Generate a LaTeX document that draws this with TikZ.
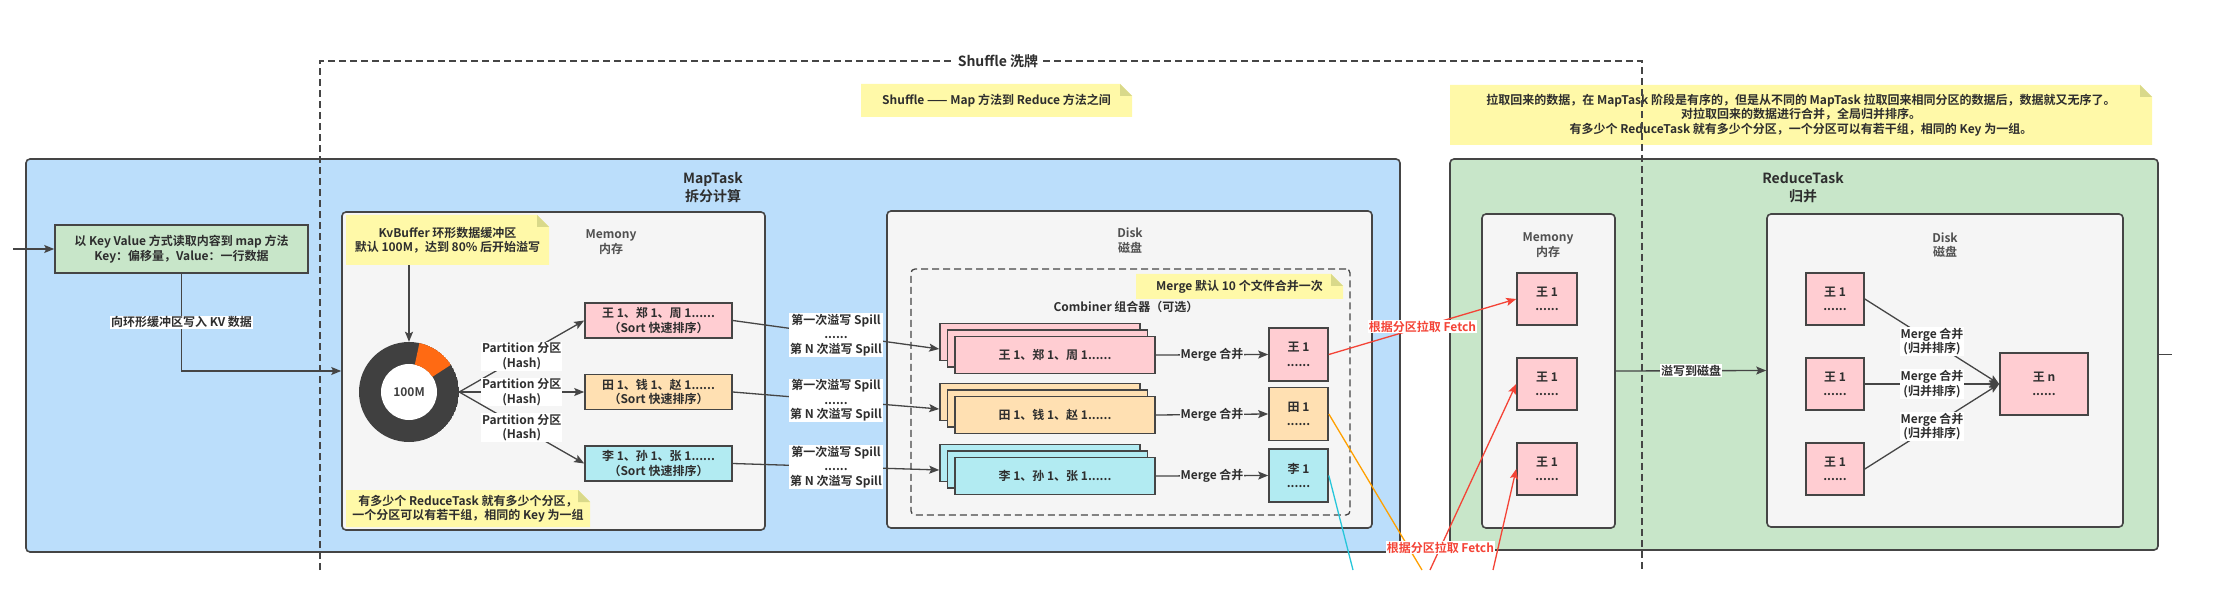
\documentclass[tikz,border=0pt]{standalone}
\usepackage{fontspec}
\setmainfont{Noto Sans CJK SC}[BoldFont={Noto Sans CJK SC Bold}]
\usetikzlibrary{arrows.meta, shadows}
\definecolor{clrMap}{HTML}{BBDEFB}
\definecolor{clrReduce}{HTML}{C8E6C9}
\definecolor{clrPanel}{HTML}{F5F5F5}
\definecolor{clrNote}{HTML}{FFF9A8}
\definecolor{clrFold}{HTML}{D9D98A}
\definecolor{clrPink}{HTML}{FFCDD2}
\definecolor{clrPeach}{HTML}{FFE0B2}
\definecolor{clrCyan}{HTML}{B2EBF2}
\definecolor{clrLine}{HTML}{454545}
\definecolor{clrText}{HTML}{2E2E2E}
\definecolor{clrSub}{HTML}{505050}
\definecolor{clrRing}{HTML}{404040}
\definecolor{clrWedge}{HTML}{FF6A13}
\definecolor{clrFetch}{HTML}{F44336}
\definecolor{clrAmber}{HTML}{FFA000}
\definecolor{clrTeal}{HTML}{26C6DA}
\newcommand{\diagtxt}{\fontsize{12}{14.5}\selectfont}
\newcommand{\headtxt}{\fontsize{14}{18}\selectfont}
\tikzset{
  task/.style = {rectangle, rounded corners=4pt, draw=clrLine, line width=1.6pt},
  panel/.style = {rectangle, rounded corners=4pt, draw=clrLine, line width=1.6pt, fill=clrPanel},
  title/.style = {align=center, font=\headtxt\bfseries, text=clrText},
  subtitle/.style = {align=center, font=\diagtxt\bfseries, text=clrSub},
  record/.style = {rectangle, draw=clrLine, line width=1.6pt, align=center,
                   font=\diagtxt\bfseries, text=clrText},
  stack/.style = {record, double copy shadow={shadow xshift=-7.5pt, shadow yshift=6.5pt}},
  note/.style = {rectangle, align=center, inner sep=3pt, font=\diagtxt\bfseries, text=clrText,
    path picture={
      \fill[clrNote] (path picture bounding box.south west) -- (path picture bounding box.north west)
        -- ([xshift=-12pt]path picture bounding box.north east)
        -- ([yshift=-12pt]path picture bounding box.north east)
        -- (path picture bounding box.south east) -- cycle;
      \fill[clrFold] ([xshift=-12pt]path picture bounding box.north east)
        -- ([xshift=-12pt, yshift=-12pt]path picture bounding box.north east)
        -- ([yshift=-12pt]path picture bounding box.north east) -- cycle;
    }},
  ring/.style = {circle, minimum size=100pt, inner sep=0pt, font=\diagtxt\bfseries, text=clrRing,
    path picture={
      \fill[clrRing] (path picture bounding box.center) circle[radius=50pt];
      \fill[white] (path picture bounding box.center) circle[radius=28pt];
      \fill[clrWedge] ([shift={(78:50pt)}]path picture bounding box.center)
        arc[start angle=78, end angle=33, radius=50pt]
        -- ([shift={(33:28pt)}]path picture bounding box.center)
        arc[start angle=33, end angle=78, radius=28pt] -- cycle;
    }},
  tag/.style = {fill=white, inner sep=1pt, align=center, font=\diagtxt\bfseries, text=clrText},
  fetchtag/.style = {tag, text=clrFetch},
  frame/.style = {draw=clrLine, line width=1.3pt, dash pattern=on 7pt off 4pt},
  arrow/.style = {-{Stealth[length=10pt, width=8pt, inset=2pt]}, line width=1.3pt, draw=clrLine},
  link/.style = {line width=1.3pt, draw=clrLine},
  fetch/.style = {arrow, draw=clrFetch},
}

\begin{document}
\begin{tikzpicture}[x=1pt, y=-1pt]
  \useasboundingbox (0,0) rectangle (2227,609);
  \fill[white] (0,0) rectangle (2227,609);

  % rows of the three partitions
  \def\rowA{320.5}
  \def\rowB{392}
  \def\rowC{463.5}
  \def\rrowA{299}
  \def\rrowB{384}
  \def\rrowC{469}

  % --- Task containers ---
  \node[task, fill=clrMap, minimum width=1374pt, minimum height=393pt] at (713,355.5) (maptask) {};
  \node[task, fill=clrReduce, minimum width=708pt, minimum height=391pt] at (1804,354.5) (reducetask) {};
  \node[title] at (713,188) (maptitle) {MapTask\\拆分计算};
  \node[title] at (1803,188) (reducetitle) {ReduceTask\\归并};

  \node[panel, minimum width=423pt, minimum height=318pt] at (553.5,371) (mapmem) {};
  \node[panel, minimum width=485pt, minimum height=317pt] at (1129.5,369.5) (mapdisk) {};
  \node[panel, minimum width=133pt, minimum height=314pt] at (1548.5,371) (redmem) {};
  \node[panel, minimum width=356pt, minimum height=313pt] at (1945,370.5) (reddisk) {};
  \node[subtitle] at (611,242) (memtitle) {Memony\\内存};
  \node[subtitle] at (1130,240.5) (disktitle) {Disk\\磁盘};
  \node[subtitle] at (1548,245) (rmemtitle) {Memony\\内存};
  \node[subtitle] at (1945,245) (rdisktitle) {Disk\\磁盘};

  % --- Read input ---
  \coordinate (src) at (13,249);
  \node[record, fill=clrReduce, minimum width=253pt, minimum height=48pt] at (181.5,249) (keyval)
    {以 Key Value 方式读取内容到 map 方法\\Key：偏移量，Value：一行数据};
  \draw[arrow] (src) -- (keyval.west);
  \draw[arrow] (keyval.south) |- node[tag, pos=0.25] {向环形缓冲区写入 KV 数据} (mapmem.west);

  % --- Ring buffer in memory ---
  \node[note, minimum width=203pt, minimum height=50pt] at (447.5,240) (kvnote)
    {KvBuffer 环形数据缓冲区\\默认 100M，达到 80\% 后开始溢写};
  \node[ring] at (409,392) (ring) {100M};
  \draw[arrow] (kvnote.south -| ring.north) -- (ring.north);

  \node[record, fill=clrPink, minimum width=147pt, minimum height=35pt] at (658.5,\rowA) (sort1)
    {王 1、郑 1、周 1......\\（Sort 快速排序）};
  \node[record, fill=clrPeach, minimum width=147pt, minimum height=35pt] at (658.5,\rowB) (sort2)
    {田 1、钱 1、赵 1......\\（Sort 快速排序）};
  \node[record, fill=clrCyan, minimum width=147pt, minimum height=35pt] at (658.5,\rowC) (sort3)
    {李 1、孙 1、张 1......\\（Sort 快速排序）};
  \draw[arrow] (ring.east) -- node[tag] {Partition 分区\\(Hash)} (sort1.west);
  \draw[arrow] (ring.east) -- node[tag] {Partition 分区\\(Hash)} (sort2.west);
  \draw[arrow] (ring.east) -- node[tag] {Partition 分区\\(Hash)} (sort3.west);

  \node[note, minimum width=244pt, minimum height=37pt] at (468,508.5) (memnote)
    {有多少个 ReduceTask 就有多少个分区，\\一个分区可以有若干组，相同的 Key 为一组};

  % --- Disk: spill, combine, merge ---
  \node[frame, rounded corners=4pt, minimum width=439pt, minimum height=246pt] at (1130.5,392) (combiner) {};
  \node[note, minimum width=207pt, minimum height=25pt] at (1239.5,286.5) (mergenote)
    {Merge 默认 10 个文件合并一次};
  \node[subtitle, text=clrText] at (1126,307) (combtitle) {Combiner 组合器（可选）};

  \node[stack, fill=clrPink, minimum width=200pt, minimum height=37pt] at (1055,355) (stack1)
    {王 1、郑 1、周 1......};
  \node[stack, fill=clrPeach, minimum width=200pt, minimum height=37pt] at (1055,415) (stack2)
    {田 1、钱 1、赵 1......};
  \node[stack, fill=clrCyan, minimum width=200pt, minimum height=37pt] at (1055,476) (stack3)
    {李 1、孙 1、张 1......};

  \draw[arrow] (sort1.east) -- node[tag] {第一次溢写 Spill\\......\\第 N 次溢写 Spill} ([xshift=-15pt, yshift=6pt]stack1.west);
  \draw[arrow] (sort2.east) -- node[tag] {第一次溢写 Spill\\......\\第 N 次溢写 Spill} ([xshift=-15pt, yshift=6pt]stack2.west);
  \draw[arrow] (sort3.east) -- node[tag] {第一次溢写 Spill\\......\\第 N 次溢写 Spill} ([xshift=-15pt, yshift=6pt]stack3.west);

  \node[record, fill=clrPink, minimum width=59pt, minimum height=53pt] at (1298.5,354.5) (res1) {王 1\\......};
  \node[record, fill=clrPeach, minimum width=59pt, minimum height=53pt] at (1298.5,414) (res2) {田 1\\......};
  \node[record, fill=clrCyan, minimum width=59pt, minimum height=53pt] at (1298.5,475.5) (res3) {李 1\\......};
  \draw[arrow] (stack1.east) -- node[tag, fill=clrPanel] {Merge 合并} (res1.west);
  \draw[arrow] (stack2.east) -- node[tag, fill=clrPanel] {Merge 合并} (res2.west);
  \draw[arrow] (stack3.east) -- node[tag, fill=clrPanel] {Merge 合并} (res3.west);

  % --- ReduceTask ---
  \node[record, fill=clrPink, minimum width=60pt, minimum height=52pt] at (1547,\rrowA) (rmem1) {王 1\\......};
  \node[record, fill=clrPink, minimum width=60pt, minimum height=52pt] at (1547,\rrowB) (rmem2) {王 1\\......};
  \node[record, fill=clrPink, minimum width=60pt, minimum height=52pt] at (1547,\rrowC) (rmem3) {王 1\\......};
  \node[record, fill=clrPink, minimum width=58pt, minimum height=52pt] at (1835,\rrowA) (rdisk1) {王 1\\......};
  \node[record, fill=clrPink, minimum width=58pt, minimum height=52pt] at (1835,\rrowB) (rdisk2) {王 1\\......};
  \node[record, fill=clrPink, minimum width=58pt, minimum height=52pt] at (1835,\rrowC) (rdisk3) {王 1\\......};
  \node[record, fill=clrPink, minimum width=88pt, minimum height=62pt] at (2044,\rrowB) (rn) {王 n\\......};

  \draw[arrow] (redmem.east) -- node[tag] {溢写到磁盘} (reddisk.west);
  \draw[arrow] (rdisk1.east) -- node[tag] {Merge 合并\\(归并排序)} (rn.west);
  \draw[arrow] (rdisk2.east) -- node[tag] {Merge 合并\\(归并排序)} (rn.west);
  \draw[arrow] (rdisk3.east) -- node[tag] {Merge 合并\\(归并排序)} (rn.west);
  \coordinate (outR) at (2172,354.5);
  \draw[link] (reducetask.east) -- (outR);

  % --- Fetch to reducers ---
  \coordinate (tealEnd) at (1353,570);
  \coordinate (amberEnd) at (1422,570);
  \coordinate (fetchB) at (1430,570);
  \coordinate (fetchC) at (1493,570);
  \draw[line width=1.3pt, draw=clrTeal] (res3.east) -- (tealEnd);
  \draw[line width=1.3pt, draw=clrAmber] (res2.east) -- (amberEnd);
  \draw[fetch] (res1.east) -- node[fetchtag] {根据分区拉取 Fetch} (rmem1.west);
  \draw[fetch] (fetchB) -- node[fetchtag, pos=0.12] {根据分区拉取 Fetch} (rmem2.west);
  \draw[fetch] (fetchC) -- (rmem3.west);

  % --- Shuffle notes and frame ---
  \node[note, minimum width=271pt, minimum height=33pt] at (996.5,100.5) (shufnote)
    {Shuffle —— Map 方法到 Reduce 方法之间};
  \node[note, minimum width=702pt, minimum height=60pt] at (1801,115) (fetchnote)
    {拉取回来的数据，在 MapTask 阶段是有序的，但是从不同的 MapTask 拉取回来相同分区的数据后，数据就又无序了。\\
     对拉取回来的数据进行合并，全局归并排序。\\
     有多少个 ReduceTask 就有多少个分区，一个分区可以有若干组，相同的 Key 为一组。};

  \coordinate (shufBL) at (320,570);
  \coordinate (shufTL) at (320,61);
  \coordinate (shufTR) at (1642,61);
  \coordinate (shufBR) at (1642,570);
  \draw[frame] (shufBL) -- (shufTL) -- (shufTR) -- (shufBR);
  \node[tag, inner sep=4pt, font=\headtxt\bfseries] at (998,61) (shuftitle) {Shuffle 洗牌};
\end{tikzpicture}
\end{document}
